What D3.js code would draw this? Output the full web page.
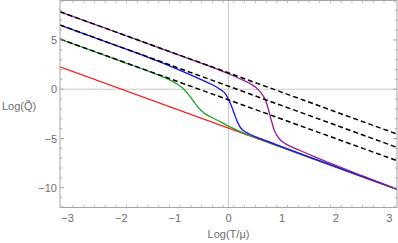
<!DOCTYPE html>
<html>
<head>
<meta charset="utf-8">
<script src="https://cdn.jsdelivr.net/npm/d3@7"></script>
<style>
  body { margin: 0; background: #fff; }
  text { font-family: "Liberation Sans", Arial, sans-serif; fill: #6e6e6e; }
</style>
</head>
<body>
<script>
// tick values
var xTicks = [-3, -2, -1, 0, 1, 2, 3];
var yTicks = [-10, -5, 0, 5];

// straight red line and the black dashed asymptotes, [x, y]
var redLine = [[-3.1416, 2.27], [3.1416, -10.17]];
var purpleAsym = [[-3.1416, 7.86], [3.1416, -4.55]];
var blueAsym = [[-3.1416, 6.51], [3.1416, -5.9]];
var greenAsym = [[-3.1416, 5.09], [3.1416, -7.25]];

// curves
var greenCurve = [[-3.1416, 5.09], [-2.0, 2.835], [-1.5, 1.83], [-1.25, 1.3], [-1.1, 0.95],
  [-0.95, 0.5], [-0.85, 0.1], [-0.75, -0.5], [-0.65, -1.245], [-0.55, -1.925],
  [-0.45, -2.435], [-0.3, -2.9], [-0.15, -3.31], [0, -3.75], [0.25, -4.375], [0.6, -5.1],
  [1.0, -5.91], [2.0, -7.9], [3.1416, -10.15]];
var blueCurve = [[-3.1416, 6.51], [-2.0, 4.25], [-1.5, 3.24], [-1.2, 2.6], [-1.0, 2.146],
  [-0.75, 1.56], [-0.5, 0.95], [-0.3, 0.45], [-0.15, -0.04], [-0.05, -0.53], [0, -1.02],
  [0.05, -1.63], [0.1, -2.36], [0.15, -3.1], [0.2, -3.69], [0.25, -4.06], [0.3, -4.29],
  [0.4, -4.572], [0.6, -5.02], [1.0, -5.845], [1.5, -6.856], [2.0, -7.86], [2.5, -8.866],
  [3.1416, -10.15]];
var purpleCurve = [[-3.1416, 7.86], [-2.0, 5.6], [-1.0, 3.62], [-0.5, 2.63], [-0.2, 2.01],
  [0, 1.57], [0.2, 1.09], [0.4, 0.58], [0.5, 0.22], [0.6, -0.32], [0.65, -0.7], [0.7, -1.24],
  [0.75, -2.18], [0.8, -3.18], [0.85, -4.12], [0.9, -4.65], [0.95, -5.05], [1.0, -5.31],
  [1.1, -5.65], [1.25, -6.02], [1.4, -6.37], [1.6, -6.84], [1.8, -7.29], [2.0, -7.73],
  [2.5, -8.8], [3.1416, -10.15]];

var W = 398, H = 243;
var fLeft = 60, fRight = 397, fTop = 0.5, fBottom = 207.5;

var x = d3.scaleLinear().domain([-Math.PI, Math.PI]).range([fLeft, fRight]);
var y = d3.scaleLinear().domain([-12, 9]).range([fBottom, fTop]);

var svg = d3.select('body').append('svg')
  .attr('width', W)
  .attr('height', H);

var plot = svg.append('g');

// clip to frame
svg.append('defs').append('clipPath').attr('id', 'clip')
  .append('rect').attr('x', fLeft).attr('y', fTop)
  .attr('width', fRight - fLeft).attr('height', fBottom - fTop);

// zero axes
plot.append('line')
  .attr('x1', x(0)).attr('x2', x(0)).attr('y1', fTop).attr('y2', fBottom)
  .attr('stroke', '#c8c8c8').attr('stroke-width', 1);
plot.append('line')
  .attr('x1', fLeft).attr('x2', fRight).attr('y1', y(0)).attr('y2', y(0))
  .attr('stroke', '#c8c8c8').attr('stroke-width', 1);

var straight = d3.line().x(function(d) { return x(d[0]); }).y(function(d) { return y(d[1]); });
var smooth = d3.line().x(function(d) { return x(d[0]); }).y(function(d) { return y(d[1]); })
  .curve(d3.curveMonotoneX);

var lines = plot.append('g').attr('clip-path', 'url(#clip)');

lines.append('path').datum(redLine).attr('d', straight)
  .attr('fill', 'none').attr('stroke', '#ff1a1a').attr('stroke-width', 1.3);
lines.append('path').datum(greenCurve).attr('d', smooth)
  .attr('fill', 'none').attr('stroke', '#1fa51f').attr('stroke-width', 1.3);
lines.append('path').datum(blueCurve).attr('d', smooth)
  .attr('fill', 'none').attr('stroke', '#1010ff').attr('stroke-width', 1.3);
lines.append('path').datum(purpleCurve).attr('d', smooth)
  .attr('fill', 'none').attr('stroke', '#951e96').attr('stroke-width', 1.3);

[purpleAsym, blueAsym, greenAsym].forEach(function(a) {
  lines.append('path').datum(a).attr('d', straight)
    .attr('fill', 'none').attr('stroke', '#000').attr('stroke-width', 1.5)
    .attr('stroke-dasharray', '5,3');
});

// frame with inward ticks
var frameCol = '#a6a6a6';
var xMinor = d3.range(-31, 32, 2).map(function(v) { return v / 10; });
var yMinor = d3.range(-12, 10);

function tickMark(x1, y1, x2, y2) {
  plot.append('line').attr('x1', x1).attr('y1', y1).attr('x2', x2).attr('y2', y2)
    .attr('stroke', frameCol).attr('stroke-width', 1);
}

xMinor.forEach(function(v) {
  var major = Math.abs(v - Math.round(v)) < 1e-6;
  var len = major ? 4 : 2;
  tickMark(x(v), fBottom, x(v), fBottom - len);
  tickMark(x(v), fTop, x(v), fTop + len);
});
yMinor.forEach(function(v) {
  var len = (v % 5 === 0) ? 4 : 2;
  tickMark(fLeft, y(v), fLeft + len, y(v));
  tickMark(fRight, y(v), fRight - len, y(v));
});

plot.append('rect')
  .attr('x', fLeft).attr('y', fTop)
  .attr('width', fRight - fLeft).attr('height', fBottom - fTop)
  .attr('fill', 'none').attr('stroke', frameCol).attr('stroke-width', 1);

function fmt(v) { return v < 0 ? '\u2212' + Math.abs(v) : String(v); }

plot.selectAll('.xl').data(xTicks).enter().append('text')
  .attr('x', function(d) { return x(d); })
  .attr('y', fBottom + 14)
  .attr('text-anchor', 'middle')
  .style('font-size', '11px')
  .text(fmt);

plot.selectAll('.yl').data(yTicks).enter().append('text')
  .attr('x', fLeft - 3)
  .attr('y', function(d) { return y(d) + 4; })
  .attr('text-anchor', 'end')
  .style('font-size', '11px')
  .text(fmt);

svg.append('text')
  .attr('x', (fLeft + fRight) / 2)
  .attr('y', 238)
  .attr('text-anchor', 'middle')
  .style('font-size', '11px')
  .text('Log(T/\u03bc)');

svg.append('text')
  .attr('x', 2)
  .attr('y', 110)
  .style('font-size', '11px')
  .text('Log(Q\u0303)');
</script>
</body>
</html>
